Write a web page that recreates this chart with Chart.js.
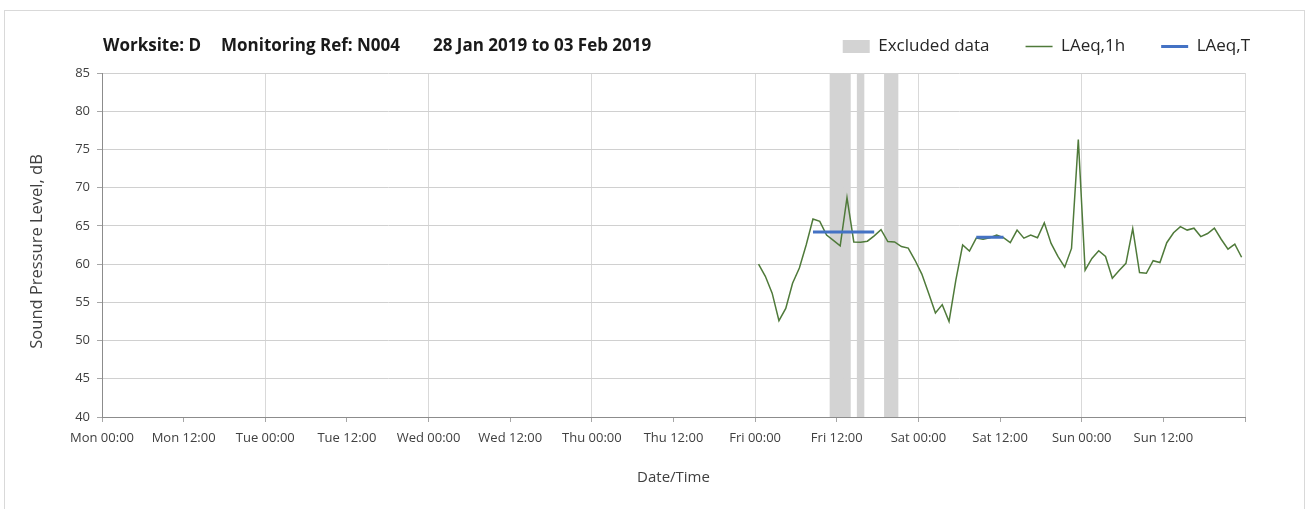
<!DOCTYPE html>
<html>
<head>
<meta charset="utf-8">
<script src="https://cdn.jsdelivr.net/npm/chart.js@4"></script>
<style>
  html, body { margin: 0; padding: 0; background: #fff; }
  body { width: 1309px; height: 509px; position: relative; overflow: hidden; }
  #frame { position: absolute; left: 4px; top: 10px; width: 1301px; height: 520px; border: 1px solid #d9d9d9; box-sizing: border-box; }
  #wrap { position: absolute; left: 0; top: 0; width: 1309px; height: 509px; }
  .ttl { position: absolute; top: 33px; font: bold 17px 'Open Sans', sans-serif; color: #1a1a1a; white-space: pre; }
</style>
</head>
<body>
<div id="frame"></div>
<div id="wrap"><canvas id="noise-chart"></canvas></div>
<div class="ttl" style="left:103px">Worksite: D</div>
<div class="ttl" style="left:221px">Monitoring Ref: N004</div>
<div class="ttl" style="left:433px">28 Jan 2019 to 03 Feb 2019</div>
<script>
// x values are hours since Mon 00:00; hourly values are plotted at mid-hour
const firstHour = 96.5; // Fri 00:00-01:00
const laeq1h = [
  60.0, 58.4, 56.2, 52.6, 54.2, 57.5, 59.5, 62.5, 65.9, 65.6, 63.8, 63.1, 62.4, 68.7,
  62.9, 62.85, 63.0, 63.7, 64.5, 62.95, 62.9, 62.3, 62.1, 60.5, 58.7, 56.2, 53.6, 54.7,
  52.5, 57.9, 62.5, 61.7, 63.4, 63.25, 63.45, 63.8, 63.45, 62.8, 64.45, 63.4, 63.8, 63.45,
  65.4, 62.7, 61.0, 59.6, 62.05, 76.3,
  59.2, 60.75, 61.75, 61.0, 58.15, 59.15, 60.1, 64.65, 58.9, 58.8,
  60.45, 60.2, 62.8, 64.1, 64.9, 64.45, 64.7, 63.6, 64.0, 64.7, 63.25, 61.95, 62.6, 60.9
];
const excludedHours = [107.5, 108.5, 109.5, 111.5, 115.5, 116.5];
const laeqTStart = [104.5, 128.5];
const laeqTEnd = [113.5, 132.5];
const laeqTValue = [64.2, 63.5];
const tickLabels = [
  'Mon 00:00', 'Mon 12:00', 'Tue 00:00', 'Tue 12:00', 'Wed 00:00', 'Wed 12:00', 'Thu 00:00',
  'Thu 12:00', 'Fri 00:00', 'Fri 12:00', 'Sat 00:00', 'Sat 12:00', 'Sun 00:00', 'Sun 12:00'
];

Chart.defaults.font.family = "'Open Sans', sans-serif";
Chart.defaults.color = '#404040';

// legend sits on the title row, pushed right, with a gap below it
const legendPlacement = {
    id: 'legendPlacement',
    afterInit(chart) {
        const fit = chart.legend.fit;
        chart.legend.fit = function () { fit.call(this); this.height += 8; };
    },
    afterLayout(chart) {
        chart.legend.left += 41;
        chart.legend.right += 41;
    }
};

const ctx = document.getElementById('noise-chart').getContext('2d');
const noiseChart = new Chart(ctx, {
    type: 'line',
    data: {
        datasets: [{
            type: 'bar',
            label: 'Excluded data',
            data: excludedHours.map(h => ({ x: h, y: [40, 85] })),
            backgroundColor: '#d3d3d3',
            borderWidth: 0,
            barPercentage: 1,
            categoryPercentage: 1,
            grouped: false,
            pointStyle: 'rect',
            order: 3
        }, {
            label: 'LAeq,1h',
            data: laeq1h.map((v, i) => ({ x: firstHour + i, y: v })),
            borderColor: '#4f7a3a',
            backgroundColor: '#4f7a3a',
            borderWidth: 1.5,
            pointRadius: 0,
            pointStyle: 'line',
            tension: 0,
            order: 2
        }, {
            label: 'LAeq,T',
            data: laeqTStart.flatMap((s, i) => [
                { x: s, y: laeqTValue[i] },
                { x: laeqTEnd[i], y: laeqTValue[i] },
                { x: laeqTEnd[i], y: null }
            ]),
            borderColor: '#4472c4',
            backgroundColor: '#4472c4',
            borderWidth: 3,
            pointRadius: 0,
            pointStyle: 'line',
            spanGaps: false,
            order: 1
        }]
    },
    options: {
        responsive: true,
        maintainAspectRatio: false,
        animation: false,
        layout: { padding: { left: 23, right: 64, top: 2, bottom: 10 } },
        plugins: {
            title: { display: false },
            tooltip: { enabled: false },
            legend: {
                position: 'top',
                align: 'end',
                labels: {
                    usePointStyle: true,
                    pointStyleWidth: 27,
                    boxHeight: 13,
                    padding: 36,
                    color: '#262626',
                    font: { size: 17 },
                    sort: (a, b) => a.datasetIndex - b.datasetIndex
                }
            }
        },
        scales: {
            x: {
                type: 'linear',
                min: 0,
                max: 168,
                offset: false,
                afterFit: s => { s.height = 82; },
                grid: {
                    offset: false,
                    color: c => (c.tick && c.tick.value % 24 === 0) ? '#d9d9d9' : 'rgba(0,0,0,0)',
                    tickColor: '#a6a6a6',
                    tickLength: 5
                },
                border: { color: '#8c8c8c' },
                ticks: {
                    stepSize: 12,
                    autoSkip: false,
                    maxRotation: 0,
                    padding: 8,
                    font: { size: 13 },
                    color: '#404040',
                    callback: (v, i) => tickLabels[i] ?? ''
                },
                title: {
                    display: true,
                    text: 'Date/Time',
                    font: { size: 15 },
                    color: '#404040',
                    padding: { top: 4, bottom: 12 }
                }
            },
            y: {
                min: 40,
                max: 85,
                afterFit: s => { s.width = 79; },
                grid: { color: '#d0d0d0', tickColor: '#a6a6a6', tickLength: 5 },
                border: { color: '#8c8c8c' },
                ticks: {
                    stepSize: 5,
                    padding: 7,
                    font: { size: 13 },
                    color: '#404040'
                },
                title: {
                    display: true,
                    // trailing spaces nudge the text a little below centre, as in the original
                    text: 'Sound Pressure Level, dB   ',
                    font: { size: 16.5 },
                    color: '#404040'
                }
            }
        }
    },
    plugins: [ legendPlacement ]
});
</script>
</body>
</html>
